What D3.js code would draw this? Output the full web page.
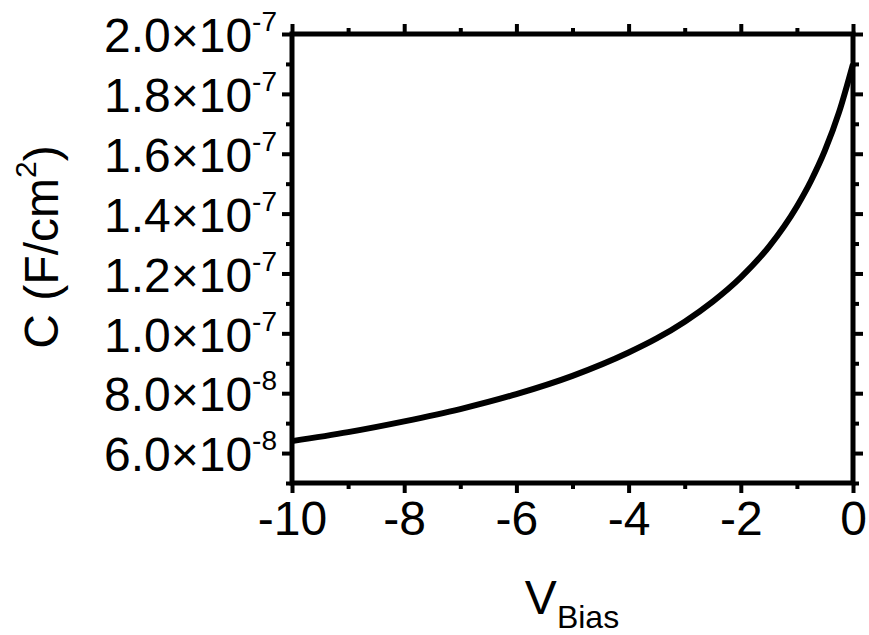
<!DOCTYPE html>
<html lang="en">
<head>
    <meta charset="UTF-8">
    <script src="https://d3js.org/d3.v7.min.js"></script>
    <style>
        body{ margin:0; background:white; }
        text{ font-family: "Liberation Sans", Arial, sans-serif; fill:black; }
        .axis path, .axis line{ stroke:black; }
    </style>
    <title>C-V</title>
</head>
<body>
    <svg width="869" height="635"></svg>
    <script>

        // bias voltage (V) and capacitance (F/cm^2)
        const vBias = [-10, -9, -8, -7, -6, -5, -4, -3.5, -3, -2.5, -2, -1.5, -1, -0.75, -0.5, -0.25, 0];
        const capacitance = [6.40e-8, 6.70e-8, 7.06e-8, 7.47e-8, 7.97e-8, 8.58e-8, 9.36e-8, 9.83e-8, 1.039e-7,
            1.106e-7, 1.187e-7, 1.289e-7, 1.424e-7, 1.509e-7, 1.611e-7, 1.738e-7, 1.90e-7];

        const xTicks = [-10, -8, -6, -4, -2, 0];
        const yTicks = [6.0e-8, 8.0e-8, 1.0e-7, 1.2e-7, 1.4e-7, 1.6e-7, 1.8e-7, 2.0e-7];
        const yTickMantissa = ["6.0", "8.0", "1.0", "1.2", "1.4", "1.6", "1.8", "2.0"];
        const yTickExp = ["-8", "-8", "-7", "-7", "-7", "-7", "-7", "-7"];
        const xMinor = [-9, -7, -5, -3, -1];
        const yMinor = [5e-8, 7e-8, 9e-8, 1.1e-7, 1.3e-7, 1.5e-7, 1.7e-7, 1.9e-7];

        const width = 869, height = 635;
        const margin = {top:34, right:16, bottom:152, left:292};

        const svg = d3.select("svg");

        const x = d3.scaleLinear().domain([-10, 0]).range([margin.left, width - margin.right]);
        const y = d3.scaleLinear().domain([5e-8, 2e-7]).range([height - margin.bottom, margin.top]);

        // minor ticks on all four sides
        function minor(g, axis){
            g.attr("class", "axis").call(axis.tickSizeOuter(0).tickFormat(""));
            g.select(".domain").remove();
            g.selectAll(".tick line").attr("stroke-width", 4);
        }
        svg.append("g").attr("transform", `translate(0,${y.range()[0]})`)
            .call(g => minor(g, d3.axisBottom(x).tickValues(xMinor).tickSize(6)));
        svg.append("g").attr("transform", `translate(0,${y.range()[1]})`)
            .call(g => minor(g, d3.axisTop(x).tickValues(xMinor).tickSize(6)));
        svg.append("g").attr("transform", `translate(${x.range()[0]},0)`)
            .call(g => minor(g, d3.axisLeft(y).tickValues(yMinor).tickSize(6)));
        svg.append("g").attr("transform", `translate(${x.range()[1]},0)`)
            .call(g => minor(g, d3.axisRight(y).tickValues(yMinor).tickSize(6)));

        // major ticks
        function major(g, axis){
            g.attr("class", "axis").call(axis.tickSizeOuter(0));
            g.select(".domain").remove();
            g.selectAll(".tick line").attr("stroke-width", 4);
        }
        svg.append("g").attr("transform", `translate(0,${y.range()[1]})`)
            .call(g => major(g, d3.axisTop(x).tickValues(xTicks).tickSize(10).tickFormat("")));
        svg.append("g").attr("transform", `translate(${x.range()[1]},0)`)
            .call(g => major(g, d3.axisRight(y).tickValues(yTicks).tickSize(10).tickFormat("")));

        const xAxis = svg.append("g").attr("transform", `translate(0,${y.range()[0]})`)
            .call(g => major(g, d3.axisBottom(x).tickValues(xTicks).tickSize(10).tickPadding(8)
                .tickFormat(d => d3.format("d")(d).replace("−", "-"))));
        xAxis.selectAll(".tick text").attr("font-size", 48).attr("font-family", "Liberation Sans, Arial, sans-serif");

        const yAxis = svg.append("g").attr("transform", `translate(${x.range()[0]},0)`)
            .call(g => major(g, d3.axisLeft(y).tickValues(yTicks).tickSize(10).tickPadding(5).tickFormat("")));
        yAxis.selectAll(".tick text")
            .attr("font-size", 48)
            .attr("font-family", "Liberation Sans, Arial, sans-serif")
            .attr("dy", "0.37em")
            .each(function(d, i){
                const t = d3.select(this);
                t.append("tspan").text(yTickMantissa[i] + "\u00d710");
                t.append("tspan").attr("font-size", 28).attr("dy", -21).text(yTickExp[i]);
            });

        // frame
        svg.append("rect")
            .attr("x", x.range()[0]).attr("y", y.range()[1])
            .attr("width", x.range()[1] - x.range()[0])
            .attr("height", y.range()[0] - y.range()[1])
            .attr("fill", "none").attr("stroke", "black").attr("stroke-width", 5);

        // curve
        const pts = vBias.map((v, i) => [v, capacitance[i]]);
        svg.append("path")
            .datum(pts)
            .attr("fill", "none")
            .attr("stroke", "black")
            .attr("stroke-width", 6)
            .attr("d", d3.line().x(d => x(d[0])).y(d => y(d[1])).curve(d3.curveMonotoneX));

        // axis titles
        const yt = svg.append("text")
            .attr("transform", "translate(58,247) rotate(-90)")
            .attr("text-anchor", "middle")
            .attr("font-size", 48);
        yt.append("tspan").text("C (F/cm");
        yt.append("tspan").attr("font-size", 30).attr("dy", "-0.75em").text("2");
        yt.append("tspan").attr("dy", "0.47em").text(")");

        const xt = svg.append("text")
            .attr("x", 572).attr("y", 614)
            .attr("text-anchor", "middle")
            .attr("font-size", 48);
        xt.append("tspan").text("V");
        xt.append("tspan").attr("font-size", 32).attr("dy", "0.45em").text("Bias");

    </script>
</body>
</html>
